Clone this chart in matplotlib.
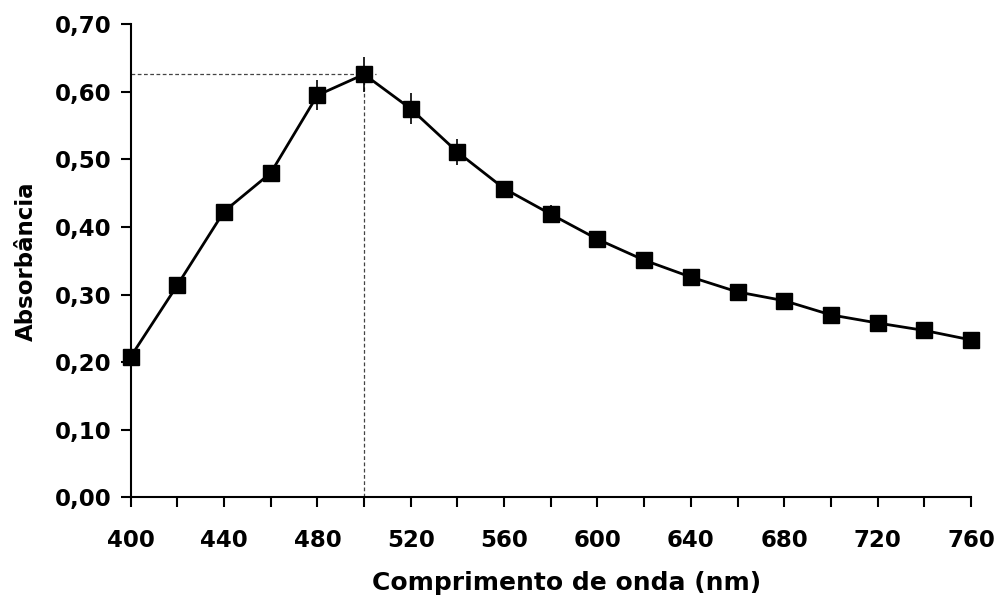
import numpy as np
import matplotlib.pyplot as plt
from matplotlib.ticker import FuncFormatter

# dados
comprimento = [400, 420, 440, 460, 480, 500, 520, 540, 560, 580,
               600, 620, 640, 660, 680, 700, 720, 740, 760]
absorbancia = [0.208, 0.314, 0.423, 0.480, 0.595, 0.626, 0.575, 0.511, 0.457, 0.419,
               0.382, 0.351, 0.326, 0.304, 0.291, 0.270, 0.258, 0.247, 0.233]
erro = [0.005, 0.006, 0.008, 0.012, 0.022, 0.026, 0.023, 0.019, 0.008, 0.013,
        0.006, 0.005, 0.005, 0.004, 0.004, 0.004, 0.004, 0.004, 0.004]

lambda_max = 500
abs_max = 0.627

x_ticks = np.arange(400, 761, 40)
y_ticks = np.arange(0, 0.71, 0.10)

plt.rcParams['font.family'] = ['DejaVu Sans']

fig = plt.figure(figsize=(10.02, 6.08), dpi=100)
ax = fig.add_axes([0.1304, 0.182, 0.8386, 0.778])

# linhas tracejadas do maximo
ax.plot([400, lambda_max + 5], [abs_max, abs_max], ls=(0, (3, 2)), color='#444444', lw=0.9)
ax.plot([lambda_max, lambda_max], [0, abs_max], ls=(0, (3, 2)), color='#444444', lw=0.9)

ax.errorbar(comprimento, absorbancia, yerr=erro, color='black', lw=2.0,
            elinewidth=1.2, capsize=0, marker='s', ms=11.5, mfc='black',
            mec='black', clip_on=False, zorder=3)

ax.set_xlim(400, 760)
ax.set_ylim(0, 0.70)
ax.set_xticks(np.arange(400, 761, 20), minor=False)
ax.set_xticklabels([str(v) if v in x_ticks else '' for v in np.arange(400, 761, 20)])
ax.set_yticks(y_ticks)
ax.yaxis.set_major_formatter(FuncFormatter(lambda v, p: f'{v:.2f}'.replace('.', ',')))

for s in ['top', 'right']:
    ax.spines[s].set_visible(False)
for s in ['left', 'bottom']:
    ax.spines[s].set_linewidth(1.5)

ax.tick_params(axis='both', direction='out', length=7, width=1.5, labelsize=16.5)
ax.tick_params(axis='x', pad=16)
ax.tick_params(axis='y', pad=7)
for lab in ax.get_xticklabels() + ax.get_yticklabels():
    lab.set_fontweight('bold')

ax.set_xlabel('Comprimento de onda (nm)', fontsize=18, fontweight='bold')
ax.xaxis.set_label_coords(0.519, -0.155)
ax.set_ylabel('Absorbância', fontsize=16.5, fontweight='bold', labelpad=12)

fig.savefig('out.png', dpi=100)
